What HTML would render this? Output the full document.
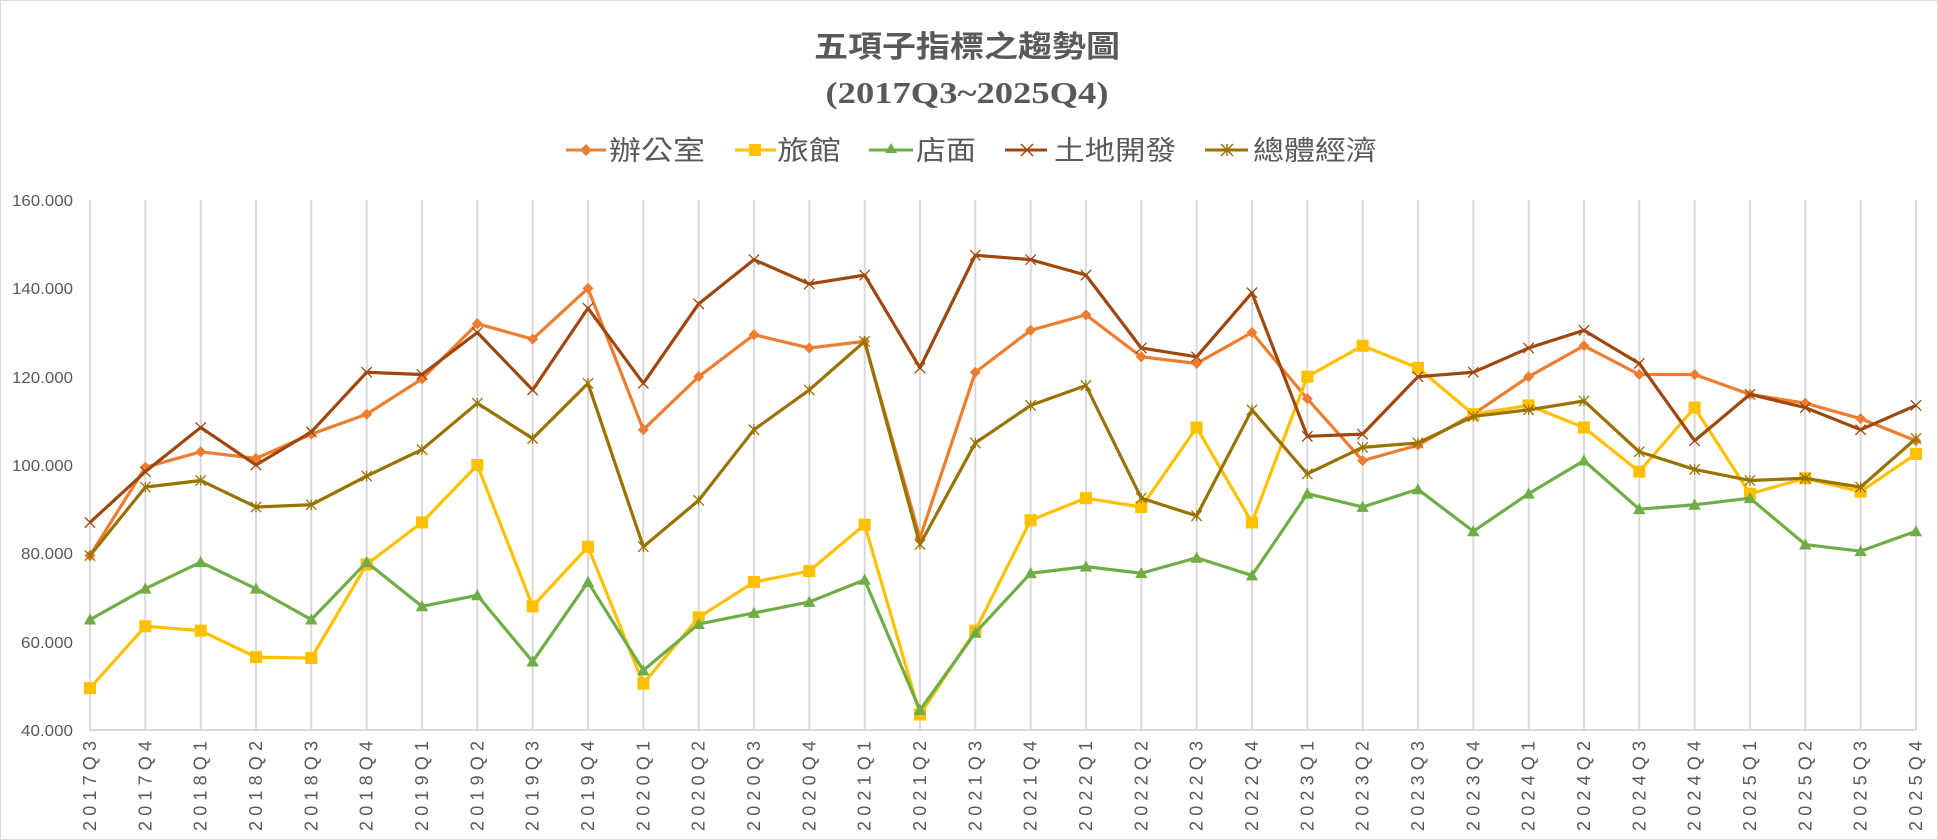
<!DOCTYPE html>
<html><head><meta charset="utf-8"><style>
html,body{margin:0;padding:0;background:#fff;}
svg{display:block;}
</style></head><body>
<svg width="1938" height="840" viewBox="0 0 1938 840" xmlns="http://www.w3.org/2000/svg">
<rect x="0.5" y="0.5" width="1937" height="839" fill="#fff" stroke="#d9d9d9"/>
<defs>
<marker id="mDia" markerUnits="userSpaceOnUse" markerWidth="3.2" markerHeight="3.2" viewBox="-5 -5 10 10" refX="0" refY="0" overflow="visible"><path d="M0,-3.9 L5,0 L0,3.9 L-5,0Z" fill="#ED7D31"/></marker>
<marker id="mSq" markerUnits="userSpaceOnUse" markerWidth="3.5" markerHeight="3.5" viewBox="-5 -5 10 10" refX="0" refY="0" overflow="visible"><rect x="-5" y="-3.9" width="10" height="7.8" fill="#FFC000"/></marker>
<marker id="mTri" markerUnits="userSpaceOnUse" markerWidth="3.6" markerHeight="3.6" viewBox="-5 -5 10 10" refX="0" refY="0" overflow="visible"><path d="M0,3.9 L5,-3.1 L-5,-3.1Z" fill="#70AD47"/></marker>
<marker id="mX" markerUnits="userSpaceOnUse" markerWidth="3" markerHeight="3" viewBox="-5 -5 10 10" refX="0" refY="0" overflow="visible"><path d="M-5,-3.9 L5,3.9 M-5,3.9 L5,-3.9" stroke="#9E480E" stroke-width="1.1" fill="none"/></marker>
<marker id="mSt" markerUnits="userSpaceOnUse" markerWidth="3" markerHeight="3" viewBox="-5 -5 10 10" refX="0" refY="0" overflow="visible"><path d="M-5,-3.9 L5,3.9 M-5,3.9 L5,-3.9 M0,-3.9 L0,3.9" stroke="#997300" stroke-width="1.1" fill="none"/></marker>
</defs>

<g fill="#595959" font-family="'Liberation Sans','Noto Sans CJK TC',sans-serif" text-anchor="middle">
<text x="967" y="57" font-size="30" font-weight="bold" textLength="306" lengthAdjust="spacingAndGlyphs">五項子指標之趨勢圖</text>
<text x="967" y="103" font-size="31" font-weight="bold" font-family="'Liberation Serif',serif" textLength="283" lengthAdjust="spacingAndGlyphs">(2017Q3~2025Q4)</text>
</g>

<!-- legend -->
<g font-family="'Liberation Sans','Noto Sans CJK TC',sans-serif" font-size="27" fill="#595959">
<line x1="566" y1="150" x2="606" y2="150" stroke="#ED7D31" stroke-width="3"/><path d="M586,144 l6,6 l-6,6 l-6,-6z" fill="#ED7D31"/>
<text x="609" y="160" textLength="96" lengthAdjust="spacingAndGlyphs">辦公室</text>
<line x1="735" y1="150" x2="776" y2="150" stroke="#FFC000" stroke-width="3"/><rect x="749" y="144" width="12" height="12" fill="#FFC000"/>
<text x="777" y="160" textLength="64" lengthAdjust="spacingAndGlyphs">旅館</text>
<line x1="869" y1="150" x2="913" y2="150" stroke="#70AD47" stroke-width="3"/><path d="M891,143 l6,10 l-12,0z" fill="#70AD47"/>
<text x="916" y="160" textLength="60" lengthAdjust="spacingAndGlyphs">店面</text>
<line x1="1005" y1="150" x2="1047" y2="150" stroke="#9E480E" stroke-width="3"/><path d="M1021,144 l12,12 M1021,156 l12,-12" stroke="#9E480E" stroke-width="1.5"/>
<text x="1054" y="160" textLength="122" lengthAdjust="spacingAndGlyphs">土地開發</text>
<line x1="1205" y1="150" x2="1248" y2="150" stroke="#997300" stroke-width="3"/><path d="M1221,144 l12,12 M1221,156 l12,-12 M1227,144 l0,12" stroke="#997300" stroke-width="1.5"/>
<text x="1253" y="160" textLength="124" lengthAdjust="spacingAndGlyphs">總體經濟</text>
</g>

<!-- grid -->
<g stroke="#d9d9d9" stroke-width="2">
<path d="M90,200V730M145.3,200V730M200.7,200V730M256,200V730M311.3,200V730M366.7,200V730M422,200V730M477.3,200V730M532.7,200V730M588,200V730M643.3,200V730M698.7,200V730M754,200V730M809.3,200V730M864.7,200V730M920,200V730M975.3,200V730M1030.7,200V730M1086,200V730M1141.3,200V730M1196.7,200V730M1252,200V730M1307.3,200V730M1362.7,200V730M1418,200V730M1473.3,200V730M1528.7,200V730M1584,200V730M1639.3,200V730M1694.7,200V730M1750,200V730M1805.3,200V730M1860.7,200V730M1916,200V730"/>
<line x1="90" y1="730" x2="1916" y2="730"/>
</g>

<g font-family="'Liberation Sans',sans-serif" font-size="16" fill="#595959" text-anchor="end">
<text x="73" y="206" textLength="61" lengthAdjust="spacingAndGlyphs">160.000</text>
<text x="73" y="294" textLength="61" lengthAdjust="spacingAndGlyphs">140.000</text>
<text x="73" y="383" textLength="61" lengthAdjust="spacingAndGlyphs">120.000</text>
<text x="73" y="471" textLength="61" lengthAdjust="spacingAndGlyphs">100.000</text>
<text x="73" y="559" textLength="52" lengthAdjust="spacingAndGlyphs">80.000</text>
<text x="73" y="648" textLength="52" lengthAdjust="spacingAndGlyphs">60.000</text>
<text x="73" y="736" textLength="52" lengthAdjust="spacingAndGlyphs">40.000</text>
</g>

<g font-family="'Liberation Sans',sans-serif" font-size="18" fill="#595959" text-anchor="end">
<text transform="translate(96,741) rotate(-90)" textLength="90" lengthAdjust="spacing">2017Q3</text>
<text transform="translate(151.3,741) rotate(-90)" textLength="90" lengthAdjust="spacing">2017Q4</text>
<text transform="translate(206.7,741) rotate(-90)" textLength="90" lengthAdjust="spacing">2018Q1</text>
<text transform="translate(262,741) rotate(-90)" textLength="90" lengthAdjust="spacing">2018Q2</text>
<text transform="translate(317.3,741) rotate(-90)" textLength="90" lengthAdjust="spacing">2018Q3</text>
<text transform="translate(372.7,741) rotate(-90)" textLength="90" lengthAdjust="spacing">2018Q4</text>
<text transform="translate(428,741) rotate(-90)" textLength="90" lengthAdjust="spacing">2019Q1</text>
<text transform="translate(483.3,741) rotate(-90)" textLength="90" lengthAdjust="spacing">2019Q2</text>
<text transform="translate(538.7,741) rotate(-90)" textLength="90" lengthAdjust="spacing">2019Q3</text>
<text transform="translate(594,741) rotate(-90)" textLength="90" lengthAdjust="spacing">2019Q4</text>
<text transform="translate(649.3,741) rotate(-90)" textLength="90" lengthAdjust="spacing">2020Q1</text>
<text transform="translate(704.7,741) rotate(-90)" textLength="90" lengthAdjust="spacing">2020Q2</text>
<text transform="translate(760,741) rotate(-90)" textLength="90" lengthAdjust="spacing">2020Q3</text>
<text transform="translate(815.3,741) rotate(-90)" textLength="90" lengthAdjust="spacing">2020Q4</text>
<text transform="translate(870.7,741) rotate(-90)" textLength="90" lengthAdjust="spacing">2021Q1</text>
<text transform="translate(926,741) rotate(-90)" textLength="90" lengthAdjust="spacing">2021Q2</text>
<text transform="translate(981.3,741) rotate(-90)" textLength="90" lengthAdjust="spacing">2021Q3</text>
<text transform="translate(1036.7,741) rotate(-90)" textLength="90" lengthAdjust="spacing">2021Q4</text>
<text transform="translate(1092,741) rotate(-90)" textLength="90" lengthAdjust="spacing">2022Q1</text>
<text transform="translate(1147.3,741) rotate(-90)" textLength="90" lengthAdjust="spacing">2022Q2</text>
<text transform="translate(1202.7,741) rotate(-90)" textLength="90" lengthAdjust="spacing">2022Q3</text>
<text transform="translate(1258,741) rotate(-90)" textLength="90" lengthAdjust="spacing">2022Q4</text>
<text transform="translate(1313.3,741) rotate(-90)" textLength="90" lengthAdjust="spacing">2023Q1</text>
<text transform="translate(1368.7,741) rotate(-90)" textLength="90" lengthAdjust="spacing">2023Q2</text>
<text transform="translate(1424,741) rotate(-90)" textLength="90" lengthAdjust="spacing">2023Q3</text>
<text transform="translate(1479.3,741) rotate(-90)" textLength="90" lengthAdjust="spacing">2023Q4</text>
<text transform="translate(1534.7,741) rotate(-90)" textLength="90" lengthAdjust="spacing">2024Q1</text>
<text transform="translate(1590,741) rotate(-90)" textLength="90" lengthAdjust="spacing">2024Q2</text>
<text transform="translate(1645.3,741) rotate(-90)" textLength="90" lengthAdjust="spacing">2024Q3</text>
<text transform="translate(1700.7,741) rotate(-90)" textLength="90" lengthAdjust="spacing">2024Q4</text>
<text transform="translate(1756,741) rotate(-90)" textLength="90" lengthAdjust="spacing">2025Q1</text>
<text transform="translate(1811.3,741) rotate(-90)" textLength="90" lengthAdjust="spacing">2025Q2</text>
<text transform="translate(1866.7,741) rotate(-90)" textLength="90" lengthAdjust="spacing">2025Q3</text>
<text transform="translate(1922,741) rotate(-90)" textLength="90" lengthAdjust="spacing">2025Q4</text>
</g>

<g transform="translate(90,906.7) scale(3.45,-4.4167)" fill="none" stroke-width="3.2" stroke-linejoin="round">
<polyline vector-effect="non-scaling-stroke" stroke="#ED7D31" marker-start="url(#mDia)" marker-mid="url(#mDia)" marker-end="url(#mDia)" points="0,79.5 16.04,99.5 32.08,103 48.11,101.5 64.15,107 80.19,111.5 96.23,119.5 112.27,132 128.3,128.5 144.34,140 160.38,108 176.42,120 192.46,129.5 208.49,126.5 224.53,128 240.57,83.5 256.61,121 272.65,130.5 288.68,134 304.72,124.5 320.76,123 336.8,130 352.84,115 368.87,101 384.91,104.5 400.95,111.5 416.99,120 433.03,127 449.06,120.5 465.1,120.5 481.14,116 497.18,114 513.22,110.5 529.25,105.5"/>
<polyline vector-effect="non-scaling-stroke" stroke="#FFC000" marker-start="url(#mSq)" marker-mid="url(#mSq)" marker-end="url(#mSq)" points="0,49.5 16.04,63.5 32.08,62.5 48.11,56.5 64.15,56.3 80.19,77.5 96.23,87 112.27,100 128.3,68 144.34,81.5 160.38,50.5 176.42,65.5 192.46,73.5 208.49,76 224.53,86.5 240.57,43.5 256.61,62.5 272.65,87.5 288.68,92.5 304.72,90.5 320.76,108.5 336.8,87 352.84,120 368.87,127 384.91,122 400.95,111.5 416.99,113.5 433.03,108.5 449.06,98.5 465.1,113 481.14,93.5 497.18,97 513.22,94 529.25,102.5"/>
<polyline vector-effect="non-scaling-stroke" stroke="#70AD47" marker-start="url(#mTri)" marker-mid="url(#mTri)" marker-end="url(#mTri)" points="0,65 16.04,72 32.08,78 48.11,72 64.15,65 80.19,78 96.23,68 112.27,70.5 128.3,55.5 144.34,73.5 160.38,53.5 176.42,64 192.46,66.5 208.49,69 224.53,74 240.57,44.5 256.61,62 272.65,75.5 288.68,77 304.72,75.5 320.76,79 336.8,75 352.84,93.5 368.87,90.5 384.91,94.5 400.95,85 416.99,93.5 433.03,101 449.06,90 465.1,91 481.14,92.5 497.18,82 513.22,80.5 529.25,85"/>
<polyline vector-effect="non-scaling-stroke" stroke="#9E480E" marker-start="url(#mX)" marker-mid="url(#mX)" marker-end="url(#mX)" points="0,87 16.04,98.5 32.08,108.5 48.11,100 64.15,107.5 80.19,121 96.23,120.5 112.27,130 128.3,117 144.34,135.5 160.38,118.5 176.42,136.5 192.46,146.5 208.49,141 224.53,143 240.57,122 256.61,147.5 272.65,146.5 288.68,143 304.72,126.5 320.76,124.5 336.8,139 352.84,106.5 368.87,107 384.91,120 400.95,121 416.99,126.5 433.03,130.5 449.06,123 465.1,105.5 481.14,116 497.18,113 513.22,108 529.25,113.5"/>
<polyline vector-effect="non-scaling-stroke" stroke="#997300" marker-start="url(#mSt)" marker-mid="url(#mSt)" marker-end="url(#mSt)" points="0,79.5 16.04,95 32.08,96.5 48.11,90.5 64.15,91 80.19,97.5 96.23,103.5 112.27,114 128.3,106 144.34,118.5 160.38,81.5 176.42,92 192.46,108 208.49,117 224.53,128 240.57,82 256.61,105 272.65,113.5 288.68,118 304.72,92.5 320.76,88.5 336.8,112.5 352.84,98 368.87,104 384.91,105 400.95,111 416.99,112.5 433.03,114.5 449.06,103 465.1,99 481.14,96.5 497.18,97 513.22,95 529.25,106"/>
</g>
</svg>
</body></html>
